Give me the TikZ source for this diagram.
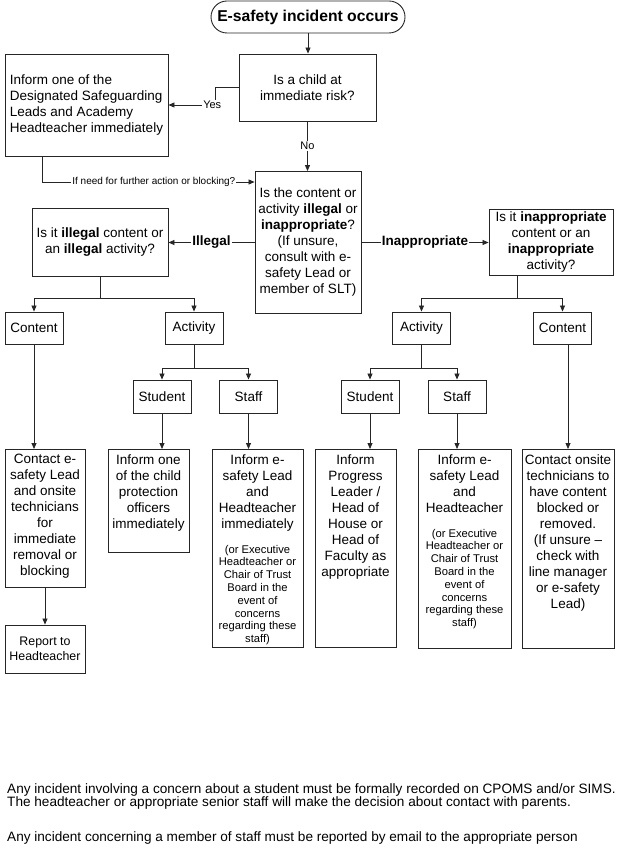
\documentclass[tikz,border=0pt]{standalone}
\usepackage{fontspec}
\setmainfont{Liberation Sans}
\usetikzlibrary{arrows.meta}
\newcommand\mainf{\fontsize{13.5}{16}\selectfont}
\newcommand\smallf{\fontsize{11.2}{12.8}\selectfont}
\newcommand\tinyf{\fontsize{10}{12}\selectfont}
\newcommand\titlef{\fontsize{15.7}{18}\selectfont\bfseries}
\newcommand\notef{\fontsize{13.6}{13}\selectfont}
\newcommand\topbox[3]{\parbox[c][#2][t]{#1}{\centering\vspace*{5pt}#3\par}}
\colorlet{linec}{black!85}
\begin{document}
\begin{tikzpicture}[x=1pt,y=-1pt,
  box/.style={draw=linec, line width=0.9pt, fill=white, inner sep=0pt, align=center, font=\mainf},
  smallbox/.style={box, minimum width=58pt, minimum height=32pt},
  arr/.style={draw=linec, line width=0.8pt, -{Triangle[length=6pt,width=5pt]}},
  ln/.style={draw=linec, line width=0.8pt},
  lab/.style={fill=white, inner sep=1pt, font=\fontsize{11}{13}\selectfont},
  note/.style={anchor=base west, inner sep=0pt, font=\notef}]
\useasboundingbox (0,0) rectangle (625,850);
\fill[white] (0,0) rectangle (625,850);

% top part
\node[box, rounded corners=16pt, minimum width=194pt, minimum height=32pt, font=\titlef] (title) at (308,17) {E-safety incident occurs};
\node[box, minimum width=137pt, minimum height=67pt] (child) at (307.5,87.5) {Is a child at\\immediate risk?};
\node[box, minimum width=163pt, minimum height=102pt, align=left] (inform) at (86.5,105) {Inform one of the\\Designated Safeguarding\\Leads and Academy\\Headteacher immediately};
\node[box, minimum width=106pt, minimum height=142pt] (mid) at (308,242.5) {Is the content or\\activity \textbf{illegal} or\\\textbf{inappropriate}?\\(If unsure,\\consult with e-\\safety Lead or\\member of SLT)};
\node[box, minimum width=136pt, minimum height=68pt] (illq) at (100,242) {Is it \textbf{illegal} content or\\an \textbf{illegal} activity?};
\node[box, minimum width=124pt, minimum height=66pt] (inq) at (551,242) {Is it \textbf{inappropriate}\\content or an\\\textbf{inappropriate}\\activity?};

% second level
\node[smallbox] (contentL) at (34,328) {Content};
\node[smallbox] (activityL) at (194,328) {Activity};
\node[smallbox] (activityR) at (421.5,328) {Activity};
\node[smallbox] (contentR) at (562.5,328) {Content};
\node[smallbox, minimum height=33pt] (studentL) at (162,396.5) {Student};
\node[smallbox, minimum height=33pt] (staffL) at (248.5,396.5) {Staff};
\node[smallbox, minimum height=33pt] (studentR) at (370,396.5) {Student};
\node[smallbox, minimum height=33pt] (staffR) at (457,396.5) {Staff};

% bottom boxes
\node[box, anchor=north] (contactL) at (45,449) {\topbox{80pt}{138pt}{Contact e-\\safety Lead\\and onsite\\technicians\\for\\immediate\\removal or\\blocking}};
\node[box, minimum width=80pt, minimum height=48pt, font=\fontsize{12.4}{14.5}\selectfont] (report) at (45,649) {Report to\\Headteacher};
\node[box, anchor=north] (childprot) at (148.5,449) {\topbox{81pt}{103pt}{Inform one\\of the child\\protection\\officers\\immediately}};
\node[box, anchor=north] (esafL) at (257.5,449) {\topbox{91pt}{198pt}{Inform e-\\safety Lead\\and\\Headteacher\\immediately\par\vspace{12pt}{\smallf(or Executive\\Headteacher or\\Chair of Trust\\Board in the\\event of\\concerns\\regarding these\\staff)\par}}};
\node[box, anchor=north] (progress) at (355.5,449) {\topbox{81pt}{198pt}{Inform\\Progress\\Leader /\\Head of\\House or\\Head of\\Faculty as\\appropriate}};
\node[box, anchor=north] (esafR) at (464.5,449) {\topbox{93pt}{199pt}{Inform e-\\safety Lead\\and\\Headteacher\par\vspace{12pt}{\smallf(or Executive\\Headteacher or\\Chair of Trust\\Board in the\\event of\\concerns\\regarding these\\staff)\par}}};
\node[box, anchor=north] (contactR) at (568,449) {\topbox{92pt}{199pt}{Contact onsite\\technicians to\\have content\\blocked or\\removed.\\(If unsure –\\check with\\line manager\\or e-safety\\Lead)}};

% connectors
\draw[arr] (title.south) -- (title.south |- child.north);
\draw[arr] (child.west) -- ++(-23.5,0) |- (inform.east) node[lab, pos=0.53] {Yes};
\draw[arr] (child.south) -- (child.south |- mid.north) node[lab, midway] {No};
\draw[arr] ([xshift=-44.5pt]inform.south) |- ([yshift=60.5pt]mid.west) node[lab, pos=0.763, font=\tinyf] {If need for further action or blocking?};
\draw[arr] (mid.west) -- (mid.west -| illq.east) node[lab, midway, font=\mainf\bfseries] {Illegal};
\draw[arr] (mid.east) -- (mid.east -| inq.west) node[lab, midway, font=\mainf\bfseries] {Inappropriate};

\coordinate (bL) at (100,298);
\draw[ln] (illq.south) -- (bL);
\draw[arr] (bL) -| (contentL.north);
\draw[arr] (bL) -| (activityL.north);
\coordinate (aL) at (194,368);
\draw[ln] (activityL.south) -- (aL);
\draw[arr] (aL) -| (studentL.north);
\draw[arr] (aL) -| (staffL.north);

\coordinate (bR) at (517,298);
\draw[ln] (inq.south -| bR) -- (bR);
\draw[arr] (bR) -| (activityR.north);
\draw[arr] (bR) -| (contentR.north);
\coordinate (aR) at (421.5,368);
\draw[ln] (activityR.south) -- (aR);
\draw[arr] (aR) -| (studentR.north);
\draw[arr] (aR) -| (staffR.north);

\draw[arr] (contentL.south) -- (contentL.south |- contactL.north);
\draw[arr] (contactL.south) -- (report.north);
\draw[arr] (studentL.south) -- (studentL.south |- childprot.north);
\draw[arr] (staffL.south) -- (staffL.south |- esafL.north);
\draw[arr] (studentR.south) -- (studentR.south |- progress.north);
\draw[arr] (staffR.south) -- (staffR.south |- esafR.north);
\draw[arr] (contentR.south -| contactR.north) -- (contactR.north);

% notes
\node[note] (note1) at (7,793) {Any incident involving a concern about a student must be formally recorded on CPOMS and/or SIMS.};
\node[note] (note2) at (7,806) {The headteacher or appropriate senior staff will make the decision about contact with parents.};
\node[note] (note3) at (7,841) {Any incident concerning a member of staff must be reported by email to the appropriate person};
\end{tikzpicture}
\end{document}
